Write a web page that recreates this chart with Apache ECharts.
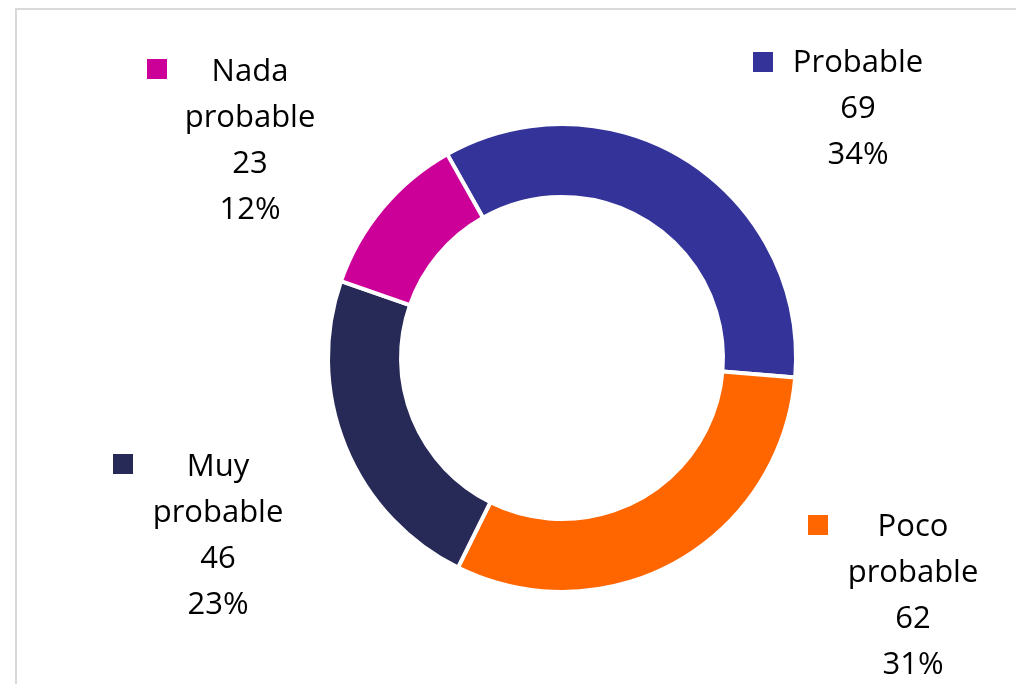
<!DOCTYPE html>
<html>
<head>
<meta charset="utf-8">
<script src="https://cdn.jsdelivr.net/npm/echarts@6/dist/echarts.min.js"></script>
<style>
html,body{margin:0;padding:0;background:#fff;overflow:hidden;}
#chart{position:absolute;left:0;top:0;width:1016px;height:684px;}
#frame{position:absolute;left:15px;top:8px;width:1100px;height:800px;border-left:2px solid #d9d9d9;border-top:2px solid #d9d9d9;pointer-events:none;}
</style>
</head>
<body>
<div id="chart"></div>
<div id="frame"></div>
<script>
const categories = ['Probable', 'Poco probable', 'Muy probable', 'Nada probable'];
const values = [69, 62, 46, 23];
const percentLabels = ['34%', '31%', '23%', '12%'];
const colors = ['#333399', '#FF6600', '#272A56', '#CC0099'];

// label block centres (x) and tops (y), key positions
const labelPos = [[858, 40], [913, 504], [218, 444], [250, 49]];
const keyPos = [[753, 52], [808, 515], [113, 454], [147, 59]];

const chart = echarts.init(document.getElementById('chart'), null, {renderer: 'canvas'});

const legends = categories.map((c, i) => ({
  data: [c],
  left: keyPos[i][0],
  top: keyPos[i][1],
  padding: 0,
  itemWidth: 20,
  itemHeight: 20,
  itemGap: 0,
  icon: 'rect',
  itemStyle: {borderWidth: 0},
  formatter: () => '',
  selectedMode: false,
  textStyle: {fontSize: 1}
}));

chart.setOption({
  animation: false,
  color: colors,
  legend: legends,
  series: [{
    type: 'pie',
    center: [562, 358],
    radius: [161, 234],
    startAngle: 119.4,
    clockwise: true,
    avoidLabelOverlap: false,
    itemStyle: {borderColor: '#fff', borderWidth: 4},
    labelLine: {show: false},
    emphasis: {disabled: true},
    label: {
      show: true,
      position: 'outside',
      color: '#000',
      fontFamily: 'Open Sans',
      fontSize: 31,
      lineHeight: 46,
      align: 'center',
      formatter: p => p.name.replace(' ', '\n') + '\n' + p.value + '\n' + percentLabels[p.dataIndex]
    },
    labelLayout: p => ({
      x: labelPos[p.dataIndex][0],
      y: labelPos[p.dataIndex][1],
      align: 'center',
      verticalAlign: 'top'
    }),
    data: categories.map((c, i) => ({name: c, value: values[i]}))
  }]
});
</script>
</body>
</html>
